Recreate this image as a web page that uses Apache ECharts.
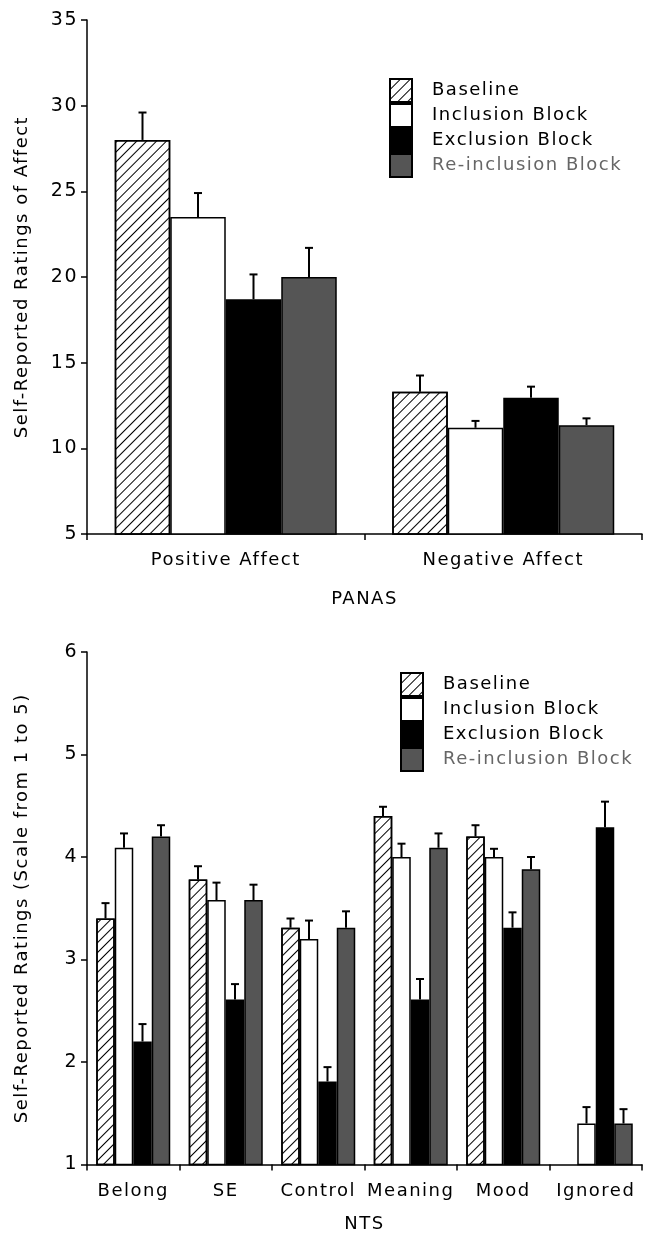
<!DOCTYPE html>
<html>
<head>
<meta charset="utf-8">
<script src="https://cdn.jsdelivr.net/npm/echarts@6/dist/echarts.min.js"></script>
<style>
html,body{margin:0;padding:0;background:#fff;}
#c{width:647px;height:1235px;}
</style>
</head>
<body>
<div id="c"></div>
<script>
// ---------- DATA ----------
const seriesNames = ['Baseline', 'Inclusion Block', 'Exclusion Block', 'Re-inclusion Block'];

// Top chart (PANAS)
const panasCategories = ['Positive Affect', 'Negative Affect'];
const panasTicks = [5, 10, 15, 20, 25, 30, 35];
const panasBaseline = [28.0, 13.3];
const panasBaselineErr = [1.6, 0.95];
const panasInclusion = [23.5, 11.2];
const panasInclusionErr = [1.4, 0.4];
const panasExclusion = [18.7, 12.95];
const panasExclusionErr = [1.45, 0.65];
const panasReinclusion = [20.0, 11.35];
const panasReinclusionErr = [1.7, 0.4];

// Bottom chart (NTS)
const ntsCategories = ['Belong', 'SE', 'Control', 'Meaning', 'Mood', 'Ignored'];
const ntsTicks = [1, 2, 3, 4, 5, 6];
const ntsBaseline = [3.40, 3.78, 3.31, 4.40, 4.20, null];
const ntsBaselineErr = [0.15, 0.13, 0.09, 0.09, 0.11, null];
const ntsInclusion = [4.09, 3.58, 3.20, 4.00, 4.00, 1.40];
const ntsInclusionErr = [0.14, 0.17, 0.18, 0.13, 0.08, 0.16];
const ntsExclusion = [2.20, 2.61, 1.81, 2.61, 3.31, 4.29];
const ntsExclusionErr = [0.17, 0.15, 0.14, 0.20, 0.15, 0.25];
const ntsReinclusion = [4.20, 3.58, 3.31, 4.09, 3.88, 1.40];
const ntsReinclusionErr = [0.11, 0.15, 0.16, 0.14, 0.12, 0.14];

// ---------- letter spacing for canvas text (reference font is spaced) ----------
(function () {
  const P = CanvasRenderingContext2D.prototype;
  if (!('letterSpacing' in P)) return;
  const f = P.fillText, m = P.measureText;
  P.fillText = function () { this.letterSpacing = '1.5px'; return f.apply(this, arguments); };
  P.measureText = function () { this.letterSpacing = '1.5px'; return m.apply(this, arguments); };
})();

// ---------- STYLE ----------
const FONT = 'DejaVu Sans';
const hatch = {
  symbol: 'rect', symbolSize: 1, color: '#000', backgroundColor: 'rgba(0,0,0,0)',
  dashArrayX: [1, 0], dashArrayY: [1, 6], rotation: -Math.PI / 4
};
const fills = ['#ffffff', '#ffffff', '#000000', '#555555'];
const GAP_FRAC = 0.8;

function barSeries(name, k, data, gi) {
  const itemStyle = { color: fills[k], borderColor: '#000', borderWidth: 1.5 };
  if (k === 0) itemStyle.decal = hatch;
  return {
    type: 'bar', name: name, xAxisIndex: gi, yAxisIndex: gi,
    data: data, barGap: '0%', barCategoryGap: '20%',
    itemStyle: itemStyle, emphasis: { disabled: true }, z: 2
  };
}

function errSeries(k, vals, errs, gi, capHalf) {
  const data = [];
  vals.forEach((v, i) => { if (v != null) data.push([i, v, errs[i]]); });
  return {
    type: 'custom', name: 'err' + k + '_' + gi, xAxisIndex: gi, yAxisIndex: gi, z: 5,
    data: data, encode: { x: 0, y: 1 },
    renderItem: function (params, api) {
      const idx = api.value(0), v = api.value(1), e = api.value(2);
      const base = api.coord([idx, v]);
      const top = api.coord([idx, v + e]);
      const band = api.size([1, 0])[0];
      const bw = band * GAP_FRAC / 4;
      const x = base[0] - 2 * bw + (k + 0.5) * bw;
      const st = { stroke: '#000', lineWidth: 2 };
      return {
        type: 'group', children: [
          { type: 'line', shape: { x1: x, y1: base[1], x2: x, y2: top[1] }, style: st },
          { type: 'line', shape: { x1: x - capHalf, y1: top[1], x2: x + capHalf, y2: top[1] }, style: st }
        ]
      };
    }
  };
}

function yAxis(gi, ticks, interval, name, nameGap) {
  return {
    type: 'value', gridIndex: gi, min: ticks[0], max: ticks[ticks.length - 1], interval: interval,
    name: name, nameLocation: 'middle', nameGap: nameGap, nameRotate: 90,
    nameTextStyle: { fontFamily: FONT, fontSize: 18, color: '#000' },
    axisLine: { show: true, lineStyle: { color: '#000', width: 1.5 } },
    axisTick: { show: true, length: 6, lineStyle: { color: '#000', width: 1.5 } },
    axisLabel: { fontFamily: FONT, fontSize: 19, color: '#000', margin: 9 },
    splitLine: { show: false }
  };
}
function xAxis(gi, cats, name, nameGap) {
  return {
    type: 'category', gridIndex: gi, data: cats,
    name: name, nameLocation: 'middle', nameGap: nameGap,
    nameTextStyle: { fontFamily: FONT, fontSize: 18, color: '#000' },
    axisLine: { show: true, lineStyle: { color: '#000', width: 1.5 } },
    axisTick: { show: true, length: 6, alignWithLabel: false, lineStyle: { color: '#000', width: 1.5 } },
    axisLabel: { fontFamily: FONT, fontSize: 18, color: '#000', margin: 17, interval: 0 },
    splitLine: { show: false }
  };
}
function legend(left, top) {
  return {
    orient: 'vertical', left: left, top: top, padding: 0, itemGap: 0,
    itemWidth: 22, itemHeight: 23, icon: 'rect', selectedMode: false,
    textStyle: { fontFamily: FONT, fontSize: 18, color: '#000', padding: [0, 0, 0, 15] },
    data: [
      { name: seriesNames[0] }, { name: seriesNames[1] }, { name: seriesNames[2] },
      { name: seriesNames[3], textStyle: { color: '#666' } }
    ]
  };
}

const panasVals = [panasBaseline, panasInclusion, panasExclusion, panasReinclusion];
const panasErrs = [panasBaselineErr, panasInclusionErr, panasExclusionErr, panasReinclusionErr];
const ntsVals = [ntsBaseline, ntsInclusion, ntsExclusion, ntsReinclusion];
const ntsErrs = [ntsBaselineErr, ntsInclusionErr, ntsExclusionErr, ntsReinclusionErr];

const series = [];
seriesNames.forEach((n, k) => series.push(barSeries(n, k, panasVals[k], 0)));
seriesNames.forEach((n, k) => series.push(barSeries(n, k, ntsVals[k], 1)));
seriesNames.forEach((n, k) => series.push(errSeries(k, panasVals[k], panasErrs[k], 0, 4)));
seriesNames.forEach((n, k) => series.push(errSeries(k, ntsVals[k], ntsErrs[k], 1, 4)));

const chart = echarts.init(document.getElementById('c'), null, { renderer: 'canvas' });
chart.setOption({
  animation: false,
  backgroundColor: '#fff',
  grid: [
    { left: 87, top: 20, width: 555, height: 514 },
    { left: 87, top: 652, width: 555, height: 515 }
  ],
  xAxis: [
    xAxis(0, panasCategories, 'PANAS', 56),
    xAxis(1, ntsCategories, 'NTS', 50)
  ],
  yAxis: [
    yAxis(0, panasTicks, 5, 'Self-Reported Ratings of Affect', 55),
    yAxis(1, ntsTicks, 1, 'Self-Reported Ratings (Scale from 1 to 5)', 55)
  ],
  legend: [legend(389, 78), legend(400, 672)],
  series: series
});
</script>
</body>
</html>
